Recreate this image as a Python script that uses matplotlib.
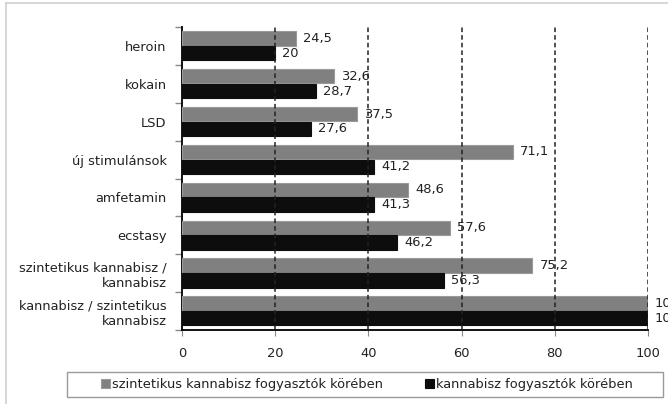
import numpy as np
import matplotlib
matplotlib.use("Agg")
from matplotlib import pyplot as plt
from matplotlib.lines import Line2D
from matplotlib.patches import Rectangle

# Adatok
kategoriak = ["heroin", "kokain", "LSD", "új stimulánsok", "amfetamin", "ecstasy",
              "szintetikus kannabisz /\nkannabisz", "kannabisz / szintetikus\nkannabisz"]
szint_fogy = [24.5, 32.6, 37.5, 71.1, 48.6, 57.6, 75.2, 100]
kann_fogy = [20, 28.7, 27.6, 41.2, 41.3, 46.2, 56.3, 100]
sorozat_nevek = ["szintetikus kannabisz fogyasztók körében", "kannabisz fogyasztók körében"]
x_tickek = [0, 20, 40, 60, 80, 100]

plt.rcParams['font.family'] = ['DejaVu Sans']
plt.rcParams['font.size'] = 9.4

fig = plt.figure(figsize=(6.68, 4.04), dpi=100)
ax = fig.add_axes([182 / 668, 1 - 330 / 404, 466 / 668, 303 / 404])

y = np.arange(len(kategoriak))
h = 0.38
b1 = ax.barh(y - 0.2, szint_fogy, height=h, color="#808080", edgecolor="#9a9a9a",
             linewidth=0.8, label=sorozat_nevek[0], zorder=3)
b2 = ax.barh(y + 0.19, kann_fogy, height=h, color="#0d0d0d", edgecolor="#0d0d0d",
             linewidth=0.8, label=sorozat_nevek[1], zorder=3)

def cimke(v):
    s = f"{v:g}"
    return s.replace(".", ",")

for bars, vals in ((b1, szint_fogy), (b2, kann_fogy)):
    for r, v in zip(bars, vals):
        ax.annotate(cimke(v), xy=(v, r.get_y() + r.get_height() / 2),
                    xytext=(5, 0), textcoords="offset points",
                    va="center", ha="left", color="#222222",
                    zorder=5, annotation_clip=False)

ax.set_xlim(0, 100)
ax.set_ylim(len(kategoriak) - 0.5, -0.5)

# Szaggatott rácsvonalak
for xv in x_tickek[1:]:
    ax.axvline(xv, color="#222222", linestyle=(0, (3, 2)), linewidth=1.1, zorder=4)

ax.set_xticks(x_tickek)
ax.set_yticks(y)
ax.set_yticklabels(kategoriak, linespacing=1.25)
ax.set_yticks(np.arange(len(kategoriak) + 1) - 0.5, minor=True)
ax.tick_params(axis="y", which="major", length=0, pad=11, colors="#222222")
ax.tick_params(axis="y", which="minor", length=5, color="#888888", width=1)
ax.tick_params(axis="x", length=4, color="#888888", labelcolor="#222222", pad=8)

ax.spines['right'].set_visible(False)
ax.spines['top'].set_visible(False)
ax.spines['left'].set_linewidth(1.3)
ax.spines['bottom'].set_linewidth(1.3)

# Jelmagyarázat keret nélkül, a keretet külön rajzoljuk
leg = fig.legend(handles=[b1, b2], loc="center", bbox_to_anchor=(367 / 668, 1 - 384.5 / 404),
                 ncol=2, frameon=False,
                 handlelength=0.7, handleheight=0.7, handletextpad=0.15,
                 columnspacing=3.2, borderpad=0.45, borderaxespad=0)
for t in leg.get_texts():
    t.set_color("#222222")
fig.add_artist(Rectangle((67 / 668, 1 - 397 / 404), 596 / 668, 25 / 404,
                         transform=fig.transFigure, fill=False,
                         edgecolor="#9a9a9a", linewidth=1))

# Külső keret
fig.add_artist(Line2D([6 / 668, 6 / 668], [0, 1 - 3 / 404], color="#d0d0d0", linewidth=1.2))
fig.add_artist(Line2D([6 / 668, 1], [1 - 3 / 404, 1 - 3 / 404], color="#d0d0d0", linewidth=1.2))

fig.savefig("out.png", dpi=100)
